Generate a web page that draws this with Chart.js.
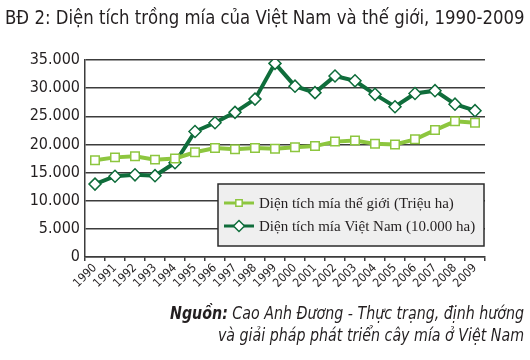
<!DOCTYPE html>
<html>
<head>
<meta charset="utf-8">
<script src="https://cdn.jsdelivr.net/npm/chart.js@4"></script>
<style>
  html, body { margin: 0; padding: 0; background: #fff; }
  #wrap { position: relative; width: 530px; height: 360px; overflow: hidden; }
  #chart { position: absolute; left: 0; top: 0; }
  .title {
    position: absolute; left: 5px; top: 5px; white-space: nowrap;
    font-family: "Liberation Sans Narrow", "DejaVu Sans Condensed", sans-serif;
    font-size: 20px; color: #231f20; transform-origin: left top;
  }
  .source {
    position: absolute; right: 6px; top: 302px; text-align: right; white-space: nowrap;
    font-family: "Liberation Sans Narrow", "DejaVu Sans Condensed", sans-serif;
    font-style: italic; font-size: 18px; line-height: 22px; color: #231f20;
    transform-origin: right top;
  }
  .source b { font-weight: bold; }
</style>
</head>
<body>
<div id="wrap">
  <canvas id="chart" width="530" height="360"></canvas>
  <div class="title" id="title">BĐ 2: Diện tích trồng mía của Việt Nam và thế giới, 1990-2009</div>
  <div class="source" id="source"><b>Nguồn:</b> Cao Anh Đương - Thực trạng, định hướng<br>và giải pháp phát triển cây mía ở Việt Nam</div>
</div>
<script>
// ------------------ Data ------------------
const years = ["1990", "1991", "1992", "1993", "1994", "1995", "1996", "1997", "1998", "1999",
               "2000", "2001", "2002", "2003", "2004", "2005", "2006", "2007", "2008", "2009"];

// Diện tích mía thế giới (Triệu ha)
const worldArea = [17200, 17700, 17900, 17300, 17500, 18600, 19350, 19150, 19350, 19250,
                   19500, 19700, 20500, 20700, 20100, 20000, 20900, 22550, 24100, 23850];

// Diện tích mía Việt Nam (10.000 ha)
const vietnamArea = [12950, 14350, 14600, 14450, 16750, 22300, 23850, 25700, 28050, 34400,
                     30350, 29200, 32150, 31300, 28900, 26700, 29050, 29550, 27150, 26000];

const seriesLabels = ["Diện tích mía thế giới (Triệu ha)", "Diện tích mía Việt Nam (10.000 ha)"];
const yTicks = [0, 5000, 10000, 15000, 20000, 25000, 30000, 35000];

const LIGHT_GREEN = "#8dc63f";
const DARK_GREEN = "#0f6d3b";
const GRID = "#3c3c3c";
const NARROW = '"Liberation Sans Narrow", "DejaVu Sans Condensed", sans-serif';

// 35000 -> "35.000"
function formatThousands(v) {
    return String(v).replace(/\B(?=(\d{3})+(?!\d))/g, ".");
}

// squeeze a text block horizontally so it fills the width it has in the picture
function fitWidth(id, targetWidth) {
    const el = document.getElementById(id);
    const w = el.scrollWidth;
    if (w > 0) el.style.transform = `scaleX(${targetWidth / w})`;
}

// Boxed legend in the lower right of the plot, drawn by hand
const boxLegend = {
    id: "boxLegend",
    afterDatasetsDraw(chart) {
        const ctx = chart.ctx;
        const x = 218, y = 184, w = 266, h = 62;
        ctx.save();
        ctx.fillStyle = "#efefef";
        ctx.fillRect(x, y, w, h);
        ctx.strokeStyle = "#2b2b2b";
        ctx.lineWidth = 1.5;
        ctx.strokeRect(x, y, w, h);

        chart.data.datasets.forEach((ds, i) => {
            const cy = y + 19 + i * 23;
            ctx.strokeStyle = ds.borderColor;
            ctx.lineWidth = 3;
            ctx.beginPath();
            ctx.moveTo(x + 6, cy);
            ctx.lineTo(x + 36, cy);
            ctx.stroke();
            ctx.fillStyle = "#fff";
            ctx.strokeStyle = ds.pointBorderColor;
            ctx.lineWidth = ds.pointBorderWidth;
            Chart.helpers.drawPoint(ctx, {
                pointStyle: ds.pointStyle,
                radius: ds.pointStyle === "rect" ? 4.5 : 5.5,
                rotation: 0,
                borderWidth: ds.pointBorderWidth
            }, x + 21, cy);
            ctx.fillStyle = "#231f20";
            ctx.font = '15px "Liberation Serif", "DejaVu Serif", serif';
            ctx.textBaseline = "middle";
            ctx.fillText(ds.label, x + 41, cy + 1);
        });
        ctx.restore();
    }
};

function renderChart() {
    new Chart(document.getElementById("chart"), {
        type: "line",
        data: {
            labels: years,
            datasets: [{
                label: seriesLabels[0],
                data: worldArea,
                borderColor: LIGHT_GREEN,
                borderWidth: 4,
                pointStyle: "rect",
                pointRadius: 6,
                pointBackgroundColor: "#fff",
                pointBorderColor: LIGHT_GREEN,
                pointBorderWidth: 1.5,
                tension: 0
            }, {
                label: seriesLabels[1],
                data: vietnamArea,
                borderColor: DARK_GREEN,
                borderWidth: 4,
                pointStyle: "rectRot",
                pointRadius: 6,
                pointBackgroundColor: "#fff",
                pointBorderColor: DARK_GREEN,
                pointBorderWidth: 1.5,
                tension: 0
            }]
        },
        options: {
            responsive: false,
            animation: false,
            layout: { padding: { top: 60, right: 45, left: 0, bottom: 0 } },
            plugins: {
                legend: { display: false },
                tooltip: { enabled: false }
            },
            scales: {
                x: {
                    offset: true,
                    afterFit: scale => { scale.height = 103; },
                    grid: {
                        offset: true,
                        drawOnChartArea: false,
                        drawTicks: true,
                        tickLength: 4,
                        color: GRID,
                        lineWidth: 1.5
                    },
                    border: { color: GRID, width: 1.5 },
                    ticks: {
                        minRotation: 45,
                        maxRotation: 45,
                        autoSkip: false,
                        padding: 0,
                        color: "#231f20",
                        font: { family: NARROW, size: 12 }
                    }
                },
                y: {
                    min: 0,
                    max: 35000,
                    afterFit: scale => { scale.width = 85; },
                    afterBuildTicks: scale => { scale.ticks = yTicks.map(v => ({ value: v })); },
                    grid: { color: GRID, lineWidth: 1.5, drawTicks: false },
                    border: { color: GRID, width: 1.5 },
                    ticks: {
                        padding: 5,
                        color: "#231f20",
                        font: { family: NARROW, size: 16 },
                        callback: v => formatThousands(v)
                    }
                }
            }
        },
        plugins: [boxLegend]
    });
}

// ------------------ Init ------------------
document.addEventListener("DOMContentLoaded", () => {
    fitWidth("title", 520);
    fitWidth("source", 354);
    renderChart();
});
</script>
</body>
</html>
